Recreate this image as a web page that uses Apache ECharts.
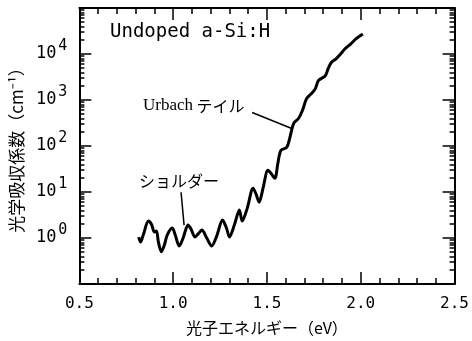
<!DOCTYPE html>
<html><head><meta charset="utf-8">
<script src="https://cdn.jsdelivr.net/npm/echarts@6/dist/echarts.min.js"></script>
<style>html,body{margin:0;padding:0;background:#fff}#c{width:472px;height:341px}</style>
</head><body><div id="c"></div>
<script>
// Photon energy (eV)
const energy = [0.816,0.826,0.842,0.868,0.884,0.900,0.911,0.921,0.937,0.953,0.968,0.995,1.011,1.032,1.053,1.079,1.095,1.116,1.137,1.153,1.179,1.205,1.232,1.263,1.284,1.300,1.326,1.353,1.368,1.395,1.426,1.442,1.458,1.479,1.505,1.521,1.542,1.558,1.574,1.605,1.621,1.642,1.668,1.689,1.711,1.737,1.758,1.774,1.811,1.826,1.842,1.868,1.889,1.916,1.947,1.974,2.011];
// Optical absorption coefficient (cm^-1)
const absorption = [1.05,0.82,1.22,2.33,2.0,1.35,1.42,0.82,0.50,0.705,1.16,1.65,1.16,0.67,1.0,1.91,1.57,1.05,1.28,1.49,1.0,0.67,1.10,2.45,1.65,1.05,1.91,4.04,2.33,4.46,12.1,8.96,6.0,12.1,29.6,25.5,19.9,42,80,93,146,308,396,590,1072,1377,1766,2630,3375,4786,6450,7870,9610,12970,16630,21330,27350];
const xTickLabels = ['0.5','1.0','1.5','2.0','2.5'];
const yLabelValues = [1,10,100,1000,10000];
const yMajorTicks = [0.1,1,10,100,1000,10000,100000];
const yMinorTicks = [];
[0.1,1,10,100,1000,10000].forEach(d=>{for(let m=2;m<=9;m++) yMinorTicks.push(+(d*m).toPrecision(3));});
// annotation leader lines (data coords)
const urbachLeader = [[1.421,533],[1.632,240]];
const shoulderLeader = [[1.042,9.9],[1.058,1.91]];

const chart = echarts.init(document.getElementById('c'));
const axisLine = {show:true, lineStyle:{color:'#000', width:2}};
const monoFont = 'DejaVu Sans Mono';
function yAxisDef(pos, ticks, len, showLine, labels){
  return {
    type:'log', logBase:10, min:0.1, max:100000, position:pos,
    axisLine: showLine ? axisLine : {show:false},
    axisTick:{show:true, inside:true, length:len, customValues:ticks, lineStyle:{color:'#000', width:1.5}},
    minorTick:{show:false},
    splitLine:{show:false},
    axisLabel: labels ? {
      show:true, customValues:yLabelValues, margin:12,
      formatter: v => '{b|10}{s|' + Math.round(Math.log10(v)) + '}',
      rich:{
        b:{fontFamily:monoFont, fontSize:17, color:'#000'},
        s:{fontFamily:monoFont, fontSize:15, color:'#000', verticalAlign:'bottom', padding:[0,0,15,2]}
      }
    } : {show:false},
    name: labels ? '光学吸収係数（cm⁻¹）' : '',
    nameLocation:'middle', nameGap:49, nameRotate:90,
    nameTextStyle:{fontFamily:'Noto Sans CJK JP', fontSize:17, color:'#000'}
  };
}
function xAxisDef(pos, labels){
  return {
    type:'value', min:0.5, max:2.5, interval:0.5, position:pos,
    axisLine:axisLine,
    axisTick:{show:true, inside:true, length:12, lineStyle:{color:'#000', width:1.5}},
    minorTick:{show:true, splitNumber:5, length:6, lineStyle:{color:'#000', width:1.5}},
    splitLine:{show:false},
    axisLabel: labels ? {show:true, margin:12, fontFamily:monoFont, fontSize:16, color:'#000',
      formatter: v => xTickLabels[Math.round((v-0.5)/0.5)]} : {show:false},
    name: labels ? '光子エネルギー（eV）' : '',
    nameLocation:'middle', nameGap:36,
    nameTextStyle:{fontFamily:'Noto Sans CJK JP', fontSize:16, color:'#000'}
  };
}
chart.setOption({
  animation:false,
  backgroundColor:'#fff',
  grid:{left:78, right:14, top:8, bottom:56, containLabel:false},
  xAxis:[xAxisDef('bottom', true), xAxisDef('top', false)],
  yAxis:[
    yAxisDef('left', yMajorTicks, 12, true, true),
    yAxisDef('left', yMinorTicks, 5, false, false),
    yAxisDef('right', yMajorTicks, 12, true, false),
    yAxisDef('right', yMinorTicks, 5, false, false)
  ],
  series:[{
    type:'line', xAxisIndex:0, yAxisIndex:0,
    data: energy.map((e,i)=>[e, absorption[i]]),
    smooth:0.3, symbol:'none',
    lineStyle:{color:'#000', width:3},
    markLine:{
      silent:true, symbol:['none','none'], label:{show:false},
      lineStyle:{color:'#000', width:1.5, type:'solid'},
      data:[
        [{coord:urbachLeader[0]},{coord:urbachLeader[1]}],
        [{coord:shoulderLeader[0]},{coord:shoulderLeader[1]}]
      ]
    }
  }],
  graphic:[
    {type:'text', left:110, top:23, style:{text:'Undoped a-Si:H', font:'19px "DejaVu Sans Mono"', fill:'#000'}},
    {type:'text', left:143, top:97, style:{text:'{a|Urbach}{j| テイル}', rich:{a:{font:'17px "Liberation Serif"', fill:'#000'}, j:{font:'16px "Noto Sans CJK JP"', fill:'#000'}}}},
    {type:'text', left:139, top:173, style:{text:'ショルダー', font:'16px "Noto Sans CJK JP"', fill:'#000'}}
  ]
});
</script>
</body></html>
